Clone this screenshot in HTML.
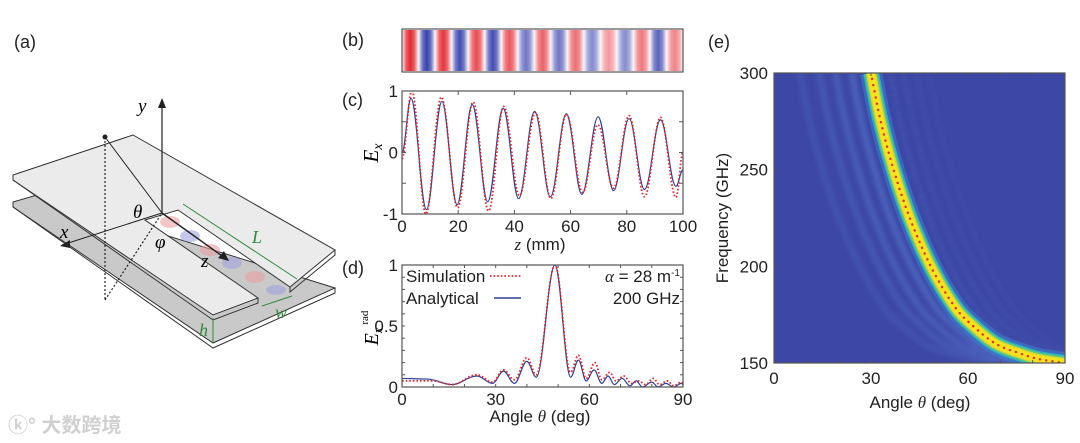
<!DOCTYPE html>
<html><head><meta charset="utf-8">
<style>
html,body{margin:0;padding:0;background:#fff;}
svg{display:block;font-family:"Liberation Sans","Noto Sans CJK SC",sans-serif;}
.t{font-size:17px;fill:#222;}
.lab{font-size:18px;fill:#222;}
.ser{font-family:"Liberation Serif",serif;font-style:italic;}
</style></head>
<body>
<svg id="fig" width="1080" height="443" viewBox="0 0 1080 443">
 <defs>
  <clipPath id="clipC"><rect x="402" y="91" width="281" height="123"/></clipPath>
  <clipPath id="clipD"><rect x="402" y="265" width="281" height="122"/></clipPath>
  <clipPath id="clipE"><rect x="774" y="73" width="291" height="290"/></clipPath>
  <filter id="blurE"><feGaussianBlur stdDeviation="2"/></filter>
 </defs>

 <g>
  <text x="14" y="48" class="lab">(a)</text>
  <polygon points="13,202 37,195 335,288 213,343 13,207" fill="#c9c9c9" stroke="#333" stroke-width="1"/>
  <polyline points="13,207 213,348 335,293 335,288" fill="none" stroke="#333" stroke-width="1"/>
  <polygon points="13,175 133,135 335,250 290,287 178,210 145,220 258,298 213,315 13,180" fill="#ebebeb" stroke="#333" stroke-width="1"/>
  <polyline points="13,180 213,320 258,303 258,298" fill="none" stroke="#333" stroke-width="1"/>
  <polyline points="290,287 290,292 335,255 335,250" fill="none" stroke="#333" stroke-width="1"/>
  <ellipse cx="170" cy="222" rx="10" ry="6" fill="#e9a0a0" opacity="0.6"/>
  <ellipse cx="190" cy="236" rx="10" ry="6" fill="#9fa3e0" opacity="0.6"/>
  <ellipse cx="210" cy="250" rx="10" ry="6" fill="#e9a0a0" opacity="0.6"/>
  <ellipse cx="232" cy="263" rx="10" ry="6" fill="#9fa3e0" opacity="0.6"/>
  <ellipse cx="255" cy="277" rx="10" ry="6" fill="#e9a0a0" opacity="0.6"/>
  <ellipse cx="276" cy="290" rx="10" ry="5" fill="#9fa3e0" opacity="0.6"/>
  <line x1="162" y1="213" x2="162" y2="102" stroke="#222" stroke-width="1.2"/>
  <polygon points="162,98 158,108 166,108" fill="#222"/>
  <text x="138" y="112" font-size="19" class="ser">y</text>
  <line x1="162" y1="213" x2="105" y2="137" stroke="#222" stroke-width="1"/>
  <circle cx="105" cy="137" r="2.5" fill="#222"/>
  <line x1="105" y1="137" x2="105" y2="300" stroke="#222" stroke-width="1.2" stroke-dasharray="2,2"/>
  <line x1="105" y1="300" x2="162" y2="213" stroke="#222" stroke-width="1.2" stroke-dasharray="2,2"/>
  <line x1="162" y1="213" x2="62" y2="245" stroke="#222" stroke-width="1"/>
  <polygon points="60,246 70,240 70,248" fill="#222"/>
  <text x="60" y="238" font-size="19" class="ser">x</text>
  <line x1="162" y1="213" x2="225" y2="258" stroke="#222" stroke-width="1.4"/>
  <polygon points="229,261 218,258 224,251" fill="#222"/>
  <text x="201" y="267" font-size="19" class="ser">z</text>
  <text x="133" y="218" font-size="19" class="ser">θ</text>
  <text x="155" y="248" font-size="19" class="ser">φ</text>
  <line x1="183" y1="204" x2="297" y2="279" stroke="#2e8b3e" stroke-width="1"/>
  <text x="252" y="243" font-size="18" fill="#2e8b3e" class="ser">L</text>
  <line x1="262" y1="306" x2="292" y2="296" stroke="#2e8b3e" stroke-width="1"/>
  <text x="275" y="318" font-size="18" fill="#2e8b3e" class="ser">w</text>
  <line x1="213" y1="318" x2="213" y2="343" stroke="#2e8b3e" stroke-width="1"/>
  <text x="199" y="336" font-size="18" fill="#2e8b3e" class="ser">h</text>
  <text x="8" y="432" font-size="20" fill="#d0d0d0" font-weight="bold">ⓚ° 大数跨境</text>
 </g>

 <g id="panelB">
  <text x="342" y="46" class="lab">(b)</text>
 </g>
 <g id="panelC">
  <text x="342" y="106" class="lab">(c)</text>
 </g>
 <g id="panelD">
  <text x="342" y="274" class="lab">(d)</text>
 </g>
 <g id="panelE">
  <text x="708" y="48" class="lab">(e)</text>
 </g>
</svg>
<script>
const stripeSigns = [1,-1,1,-1,1,-1,1,-1,1,-1,1,-1,1,-1,1,-1,1];
const stripeAmps  = [0.95,0.9,0.9,0.85,0.8,0.85,0.75,0.65,0.7,0.65,0.65,0.55,0.45,0.55,0.6,0.75,0.55];

const cTicksX = [0,20,40,60,80,100];
const cTicksY = [-1,0,1];
const cAnaZ = [0,3.2,8.7,14.2,19.6,25,30.5,36,41.5,47.2,52.8,58.5,64,69.8,75.3,80.8,86.3,92,97.5,100];
const cAnaE = [0,0.88,-0.93,0.83,-0.85,0.78,-0.8,0.72,-0.75,0.67,-0.72,0.63,-0.68,0.58,-0.62,0.55,-0.6,0.53,-0.55,-0.28];
const cSimZ = [0,3.5,8.5,14,19.8,25.3,30.8,36.2,41.8,47.5,53,58.5,64.3,69.7,75.3,80.8,86.3,92,97.5,100];
const cSimE = [-0.1,1.0,-1.0,0.9,-0.9,0.82,-0.95,0.75,-0.7,0.65,-0.75,0.62,-0.65,0.45,-0.58,0.6,-0.72,0.57,-0.73,0.0];

const dTicksX = [0,30,60,90];
const dTicksY = [0,0.5,1];
const dTickLabelsY = ["0","0.5","1"];
const dAnaT = [0,8,16,24,29,32.5,36,40,43,49,54,56.5,59,61.5,64,66,68,70.5,73,75,77,80,82,84.5,87,89.5,90];
const dAnaV = [0.07,0.065,0.02,0.09,0.03,0.13,0.03,0.21,0.08,1.0,0.08,0.22,0.05,0.14,0.03,0.09,0.02,0.07,0.01,0.05,0.0,0.04,0.0,0.03,0.0,0.03,0.02];
const dSimT = [0,10,16,24,29,32.5,36,40,43,49,54,56.5,59,61.8,64,66.5,68.5,71,73.5,75.8,78,80.5,82.5,85,87,89.5,90];
const dSimV = [0.05,0.05,0.02,0.1,0.04,0.14,0.06,0.24,0.1,1.0,0.12,0.26,0.07,0.2,0.06,0.12,0.05,0.09,0.03,0.05,0.02,0.07,0.02,0.05,0.01,0.04,0.03];

const eTicksX = [0,30,60,90];
const eTicksY = [150,200,250,300];
const eFreq  = [150,152,155,160,170,180,200,225,250,275,300];
const eAngle = [90,82,76,68.5,61,55.5,48.5,42,37,33,30];

const NS = "http://www.w3.org/2000/svg";
function mk(tag, attrs, parent){ const e=document.createElementNS(NS,tag); for(const k in attrs) e.setAttribute(k,attrs[k]); parent.appendChild(e); return e; }
function extremaPath(xs, ys, sx, sy){
  let d = "M"+sx(xs[0]).toFixed(2)+","+sy(ys[0]).toFixed(2);
  for(let i=1;i<xs.length;i++){
    const x0=sx(xs[i-1]),y0=sy(ys[i-1]),x1=sx(xs[i]),y1=sy(ys[i]),dx=x1-x0;
    d += " C"+(x0+0.37*dx).toFixed(2)+","+y0.toFixed(2)+" "+(x1-0.37*dx).toFixed(2)+","+y1.toFixed(2)+" "+x1.toFixed(2)+","+y1.toFixed(2);
  }
  return d;
}
function smoothPath(P){
  let d="M"+P[0][0].toFixed(1)+","+P[0][1].toFixed(1);
  for(let i=0;i<P.length-1;i++){
    const p0=P[Math.max(0,i-1)],p1=P[i],p2=P[i+1],p3=P[Math.min(P.length-1,i+2)];
    const c1=[p1[0]+(p2[0]-p0[0])/6,p1[1]+(p2[1]-p0[1])/6], c2=[p2[0]-(p3[0]-p1[0])/6,p2[1]-(p3[1]-p1[1])/6];
    d+=" C"+c1[0].toFixed(1)+","+c1[1].toFixed(1)+" "+c2[0].toFixed(1)+","+c2[1].toFixed(1)+" "+p2[0].toFixed(1)+","+p2[1].toFixed(1);
  }
  return d;
}
function frame(g,x,y,w,h){ const r=mk("rect",{x:x,y:y,width:w,height:h,fill:"none",stroke:"#555","stroke-width":1.2},g);   }

// panel b
(function(){
  const g=document.getElementById("panelB");
  const x0=402,w=281,y0=29,h=43,sw=w/stripeSigns.length;
  const defs=document.querySelector("defs");
  stripeSigns.forEach((s,i)=>{
    const id="sg"+i;
    const lg=mk("linearGradient",{id:id,x1:0,x2:1,y1:0,y2:0},defs);
    const col=s>0?"rgb(228,30,40)":"rgb(35,45,165)";
    const a=stripeAmps[i];
    mk("stop",{offset:"0",  "stop-color":col,"stop-opacity":0.05},lg);
    mk("stop",{offset:"0.25","stop-color":col,"stop-opacity":a*0.75},lg);
    mk("stop",{offset:"0.5","stop-color":col,"stop-opacity":a},lg);
    mk("stop",{offset:"0.75","stop-color":col,"stop-opacity":a*0.75},lg);
    mk("stop",{offset:"1",  "stop-color":col,"stop-opacity":0.05},lg);
    const r=mk("rect",{x:x0+i*sw,y:y0+1,width:sw,height:h-2,fill:"url(#"+id+")"},g);
    
    
  });
  frame(g,x0,y0,w,h);
})();

// panel c
(function(){
  const g=document.getElementById("panelC");
  const X0=402,X1=683,Y0=214,Y1=91;
  const sx=v=>X0+(v-0)/100*(X1-X0), sy=v=>Y0-(v+1)/2*(Y0-Y1);
  const cg=mk("g",{"clip-path":"url(#clipC)"},g);
  const a=mk("path",{d:extremaPath(cAnaZ,cAnaE,sx,sy),fill:"none",stroke:"#2d3e9c","stroke-width":1.2},cg);
   
  const s=mk("path",{d:extremaPath(cSimZ,cSimE,sx,sy),fill:"none",stroke:"#e0262a","stroke-width":1.8,"stroke-dasharray":"1.6,2"},cg);
   
  frame(g,X0,Y1,X1-X0,Y0-Y1);
  cTicksX.forEach(v=>{ mk("line",{x1:sx(v),x2:sx(v),y1:Y0,y2:Y0-4,stroke:"#555"},g); mk("line",{x1:sx(v),x2:sx(v),y1:Y1,y2:Y1+4,stroke:"#555"},g);
    const t=mk("text",{x:sx(v),y:Y0+18,"text-anchor":"middle",class:"t"},g); t.textContent=v;
      });
  [-0.5,0.5].concat(cTicksY).forEach(v=>{ mk("line",{x1:X0,x2:X0+4,y1:sy(v),y2:sy(v),stroke:"#555"},g); mk("line",{x1:X1,x2:X1-4,y1:sy(v),y2:sy(v),stroke:"#555"},g);});
  cTicksY.forEach(v=>{ const t=mk("text",{x:X0-4,y:sy(v)+6,"text-anchor":"end",class:"t"},g); t.textContent=v;
      });
  const xt=mk("text",{x:540,y:250,"text-anchor":"middle",class:"t","font-size":"19"},g);
  xt.innerHTML='<tspan font-family="Liberation Serif" font-style="italic">z</tspan> (mm)';
   
  const yt=mk("text",{transform:"translate(378,153) rotate(-90)","text-anchor":"middle","font-size":"21",class:"ser"},g);
  yt.innerHTML='E<tspan font-size="14" dy="4">x</tspan>';
   
})();

// panel d
(function(){
  const g=document.getElementById("panelD");
  const X0=402,X1=683,Y0=387,Y1=265;
  const sx=v=>X0+v/90*(X1-X0), sy=v=>Y0-v*(Y0-Y1);
  const cg=mk("g",{"clip-path":"url(#clipD)"},g);
  const a=mk("path",{d:extremaPath(dAnaT,dAnaV,sx,sy),fill:"none",stroke:"#2d3e9c","stroke-width":1.2},cg);
   
  const s=mk("path",{d:extremaPath(dSimT,dSimV,sx,sy),fill:"none",stroke:"#e0262a","stroke-width":1.8,"stroke-dasharray":"1.6,2"},cg);
   
  frame(g,X0,Y1,X1-X0,Y0-Y1);
  [0,10,20,30,40,50,60,70,80,90].forEach(v=>{ mk("line",{x1:sx(v),x2:sx(v),y1:Y0,y2:Y0-3,stroke:"#555"},g); mk("line",{x1:sx(v),x2:sx(v),y1:Y1,y2:Y1+3,stroke:"#555"},g);});
  dTicksX.forEach(v=>{ const t=mk("text",{x:sx(v),y:Y0+18,"text-anchor":"middle",class:"t"},g); t.textContent=v;
      });
  [0,0.1,0.2,0.3,0.4,0.5,0.6,0.7,0.8,0.9,1].forEach(v=>{ mk("line",{x1:X0,x2:X0+3,y1:sy(v),y2:sy(v),stroke:"#555"},g); mk("line",{x1:X1,x2:X1-3,y1:sy(v),y2:sy(v),stroke:"#555"},g);});
  dTicksY.forEach((v,i)=>{ const t=mk("text",{x:X0-4,y:sy(v)+6,"text-anchor":"end",class:"t"},g); t.textContent=dTickLabelsY[i];
      });
  const xt=mk("text",{x:540,y:422,"text-anchor":"middle",class:"t","font-size":"19"},g);
  xt.innerHTML='Angle <tspan font-family="Liberation Serif" font-style="italic">θ</tspan> (deg)';
   
  const yt=mk("text",{transform:"translate(378,328) rotate(-90)","text-anchor":"middle","font-size":"20",class:"ser"},g);
  yt.innerHTML='E<tspan font-size="13" dy="4">x</tspan><tspan font-size="11" dy="-14" font-style="normal"> rad</tspan>';
   
  const l1=mk("text",{x:406,y:282,class:"t"},g); l1.textContent="Simulation";
   
  mk("line",{x1:490,x2:521,y1:276,y2:276,stroke:"#e0262a","stroke-width":1.8,"stroke-dasharray":"1.6,2"},g);
  const l2=mk("text",{x:406,y:304,class:"t"},g); l2.textContent="Analytical";
   
  mk("line",{x1:494,x2:521,y1:298,y2:298,stroke:"#2d3e9c","stroke-width":1.4},g);
  const a1=mk("text",{x:680,y:282,"text-anchor":"end",class:"t"},g);
  a1.innerHTML='<tspan font-family="Liberation Serif" font-style="italic">α</tspan> = 28 m<tspan font-size="10" dy="-6">-1</tspan>';
   
  const a2=mk("text",{x:680,y:304,"text-anchor":"end",class:"t"},g); a2.textContent="200 GHz";
   
})();

// panel e
(function(){
  const g=document.getElementById("panelE");
  const X0=774,X1=1065,Y0=363,Y1=73;
  const sx=v=>X0+v/90*(X1-X0), sy=v=>Y0-(v-150)/150*(Y0-Y1);
  const cg=mk("g",{"clip-path":"url(#clipE)"},g);
  const bg=mk("rect",{x:X0,y:Y1,width:X1-X0,height:Y0-Y1,fill:"#3d47a6"},cg);
   
  function pth(off){ return smoothPath(eFreq.map((f,i)=>[sx(eAngle[i]+off),sy(f)])); }
  const lob=mk("g",{filter:"url(#blurE)"},cg);
  [-6,-11,-16,-22].forEach((o,k)=>{ const p=mk("path",{d:pth(o),fill:"none",stroke:"#5274c8","stroke-width":7,opacity:0.55-k*0.1},lob);
      });
  [6,10,14,18].forEach((o,k)=>{ const p=mk("path",{d:pth(o),fill:"none",stroke:"#4e6cc4","stroke-width":3,opacity:0.45-k*0.08,"stroke-dasharray":"5,3"},lob);
      });
  const rg=mk("g",{},cg);
  const layers=[[22,"#3a7fd0",0.6],[16,"#2ab0c0",1],[13,"#60c880",1],[10,"#d8d830",1],[7,"#f8e21c",1]];
  layers.forEach(L=>{ const p=mk("path",{d:pth(0),fill:"none",stroke:L[1],"stroke-width":L[0],opacity:L[2],"stroke-linejoin":"round"},rg);
      });
  const dots=mk("path",{d:pth(0),fill:"none",stroke:"#d8322a","stroke-width":2.4,"stroke-dasharray":"0.1,6.2","stroke-linecap":"round"},cg);
   
  frame(g,X0,Y1,X1-X0,Y0-Y1);
  [0,10,20,30,40,50,60,70,80,90].forEach(v=>{ mk("line",{x1:sx(v),x2:sx(v),y1:Y0,y2:Y0-3,stroke:"#555"},g); mk("line",{x1:sx(v),x2:sx(v),y1:Y1,y2:Y1+3,stroke:"#555"},g);});
  eTicksX.forEach(v=>{ const t=mk("text",{x:sx(v),y:Y0+21,"text-anchor":"middle",class:"t","font-size":"17"},g); t.textContent=v;
      });
  eTicksY.forEach(v=>{ mk("line",{x1:X0,x2:X0+3,y1:sy(v),y2:sy(v),stroke:"#555"},g);
    const t=mk("text",{x:X0-6,y:sy(v)+6,"text-anchor":"end",class:"t","font-size":"17"},g); t.textContent=v;
      });
  const xt=mk("text",{x:920,y:408,"text-anchor":"middle",class:"t","font-size":"20"},g);
  xt.innerHTML='Angle <tspan font-family="Liberation Serif" font-style="italic">θ</tspan> (deg)';
   
  const yt=mk("text",{transform:"translate(728,218) rotate(-90)","text-anchor":"middle",class:"t","font-size":"21"},g);
  yt.textContent="Frequency (GHz)";
   
})();
</script>
</body></html>
